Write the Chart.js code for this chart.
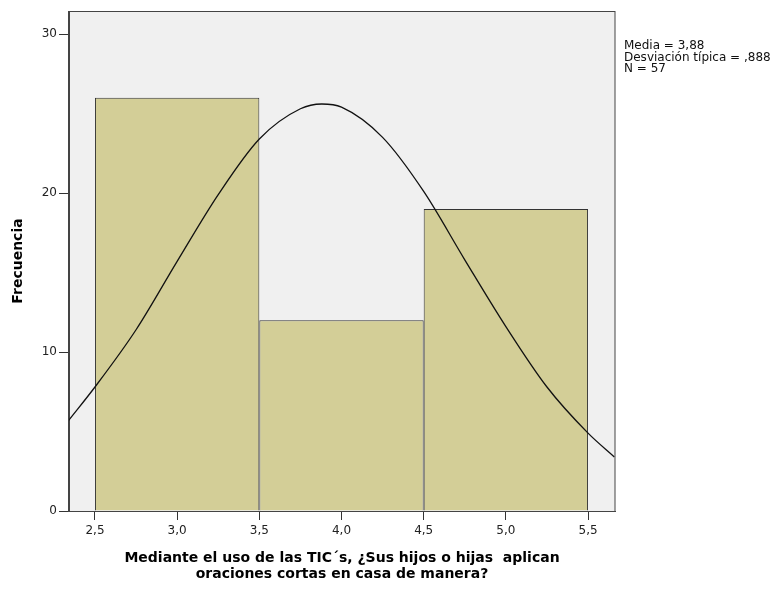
<!DOCTYPE html>
<html>
<head>
<meta charset="utf-8">
<script src="https://cdn.jsdelivr.net/npm/chart.js@4.4.1/dist/chart.umd.min.js"></script>
<style>
  html, body { margin: 0; padding: 0; background: #ffffff; }
  canvas { display: block; }
</style>
</head>
<body>
<canvas id="hist" width="778" height="589"></canvas>
<script>
// Histograma - valores
const binCenters = [3.0, 4.0, 5.0];
const binCounts = [26, 12, 19];
const binWidth = 1;

// Curva normal (lectura del grafico)
const curveX = [2.34, 2.5, 2.75, 3.0, 3.25, 3.5, 3.75, 3.88, 4.0, 4.25, 4.5, 4.75, 5.0, 5.25, 5.5, 5.66];
const curveY = [5.7, 7.8, 11.4, 15.7, 19.9, 23.4, 25.3, 25.6, 25.4, 23.5, 20.1, 15.8, 11.6, 7.8, 4.9, 3.4];

const xTicks = [2.5, 3.0, 3.5, 4.0, 4.5, 5.0, 5.5];
const yTicks = [0, 10, 20, 30];
const xRange = [2.342, 5.664];
const yRange = [0, 31.45];

const statLines = ['Media = 3,88', 'Desviación típica = ,888', 'N = 57'];
const xTitle = ['Mediante el uso de las TIC´s, ¿Sus hijos o hijas  aplican', 'oraciones cortas en casa de manera?'];
const yTitle = 'Frecuencia';

const FONT = "'DejaVu Sans', sans-serif";

// Fondo y marco del area del grafico
const framePlugin = {
    id: 'frame',
    beforeDraw(chart) {
        const { ctx, chartArea: a } = chart;
        ctx.save();
        ctx.fillStyle = '#f0f0f0';
        ctx.fillRect(a.left, a.top, a.right - a.left, a.bottom - a.top);
        ctx.restore();
    },
    afterDatasetsDraw(chart) {
        const { ctx, chartArea: a } = chart;
        ctx.save();
        ctx.strokeStyle = '#444444';
        ctx.lineWidth = 1;
        ctx.strokeRect(a.left - 0.5, a.top + 0.5, a.right - a.left + 0.5, a.bottom - a.top);
        ctx.restore();
    }
};

// Estadisticos a la derecha
const statsPlugin = {
    id: 'stats',
    afterDraw(chart) {
        const { ctx, chartArea: a } = chart;
        ctx.save();
        ctx.font = '12px ' + FONT;
        ctx.fillStyle = '#111111';
        ctx.textAlign = 'left';
        ctx.textBaseline = 'middle';
        statLines.forEach((t, i) => {
            ctx.fillText(t, a.right + 9, a.top + 35 + i * 11.5);
        });
        ctx.restore();
    }
};

new Chart(document.getElementById('hist').getContext('2d'), {
    type: 'bar',
    data: {
        datasets: [
            {
                type: 'line',
                data: curveX.map((x, i) => ({ x: x, y: curveY[i] })),
                borderColor: '#111111',
                borderWidth: 1.3,
                pointRadius: 0,
                cubicInterpolationMode: 'monotone',
                fill: false,
                order: 0
            },
            {
                type: 'bar',
                data: binCenters.map((x, i) => ({ x: x, y: binCounts[i] })),
                backgroundColor: '#d3ce97',
                borderColor: '#333333',
                borderWidth: 1,
                categoryPercentage: 1,
                // el ancho minimo que usa Chart.js es la distancia entre ticks
                barPercentage: binWidth / (xTicks[1] - xTicks[0]),
                order: 1
            }
        ]
    },
    options: {
        responsive: false,
        animation: false,
        layout: { padding: { top: 11, right: 163, left: 0, bottom: 0 } },
        plugins: {
            legend: { display: false },
            tooltip: { enabled: false }
        },
        scales: {
            x: {
                type: 'linear',
                offset: false,
                min: xRange[0],
                max: xRange[1],
                afterBuildTicks: s => { s.ticks = xTicks.map(v => ({ value: v })); },
                afterFit: s => { s.height = 78; },
                grid: { offset: false, drawOnChartArea: false, drawTicks: true, tickLength: 9, color: '#333333' },
                border: { display: true, color: '#444444' },
                ticks: {
                    font: { family: FONT, size: 12 },
                    color: '#222222',
                    padding: 4,
                    maxRotation: 0,
                    callback: v => v.toFixed(1).replace('.', ',')
                },
                title: {
                    display: true,
                    text: xTitle,
                    font: { family: FONT, size: 14, weight: 'bold', lineHeight: '16px' },
                    color: '#000000',
                    padding: { top: 0, bottom: 7 }
                }
            },
            y: {
                min: yRange[0],
                max: yRange[1],
                afterBuildTicks: s => { s.ticks = yTicks.map(v => ({ value: v })); },
                afterFit: s => { s.width = 69; },
                grid: { drawOnChartArea: false, drawTicks: true, tickLength: 10, color: '#333333' },
                border: { display: true, color: '#444444' },
                ticks: {
                    font: { family: FONT, size: 12 },
                    color: '#222222',
                    padding: 2
                },
                title: {
                    display: true,
                    text: yTitle,
                    font: { family: FONT, size: 14, weight: 'bold', lineHeight: '16px' },
                    color: '#000000',
                    padding: { top: 10, bottom: 0 }
                }
            }
        }
    },
    plugins: [framePlugin, statsPlugin]
});
</script>
</body>
</html>
